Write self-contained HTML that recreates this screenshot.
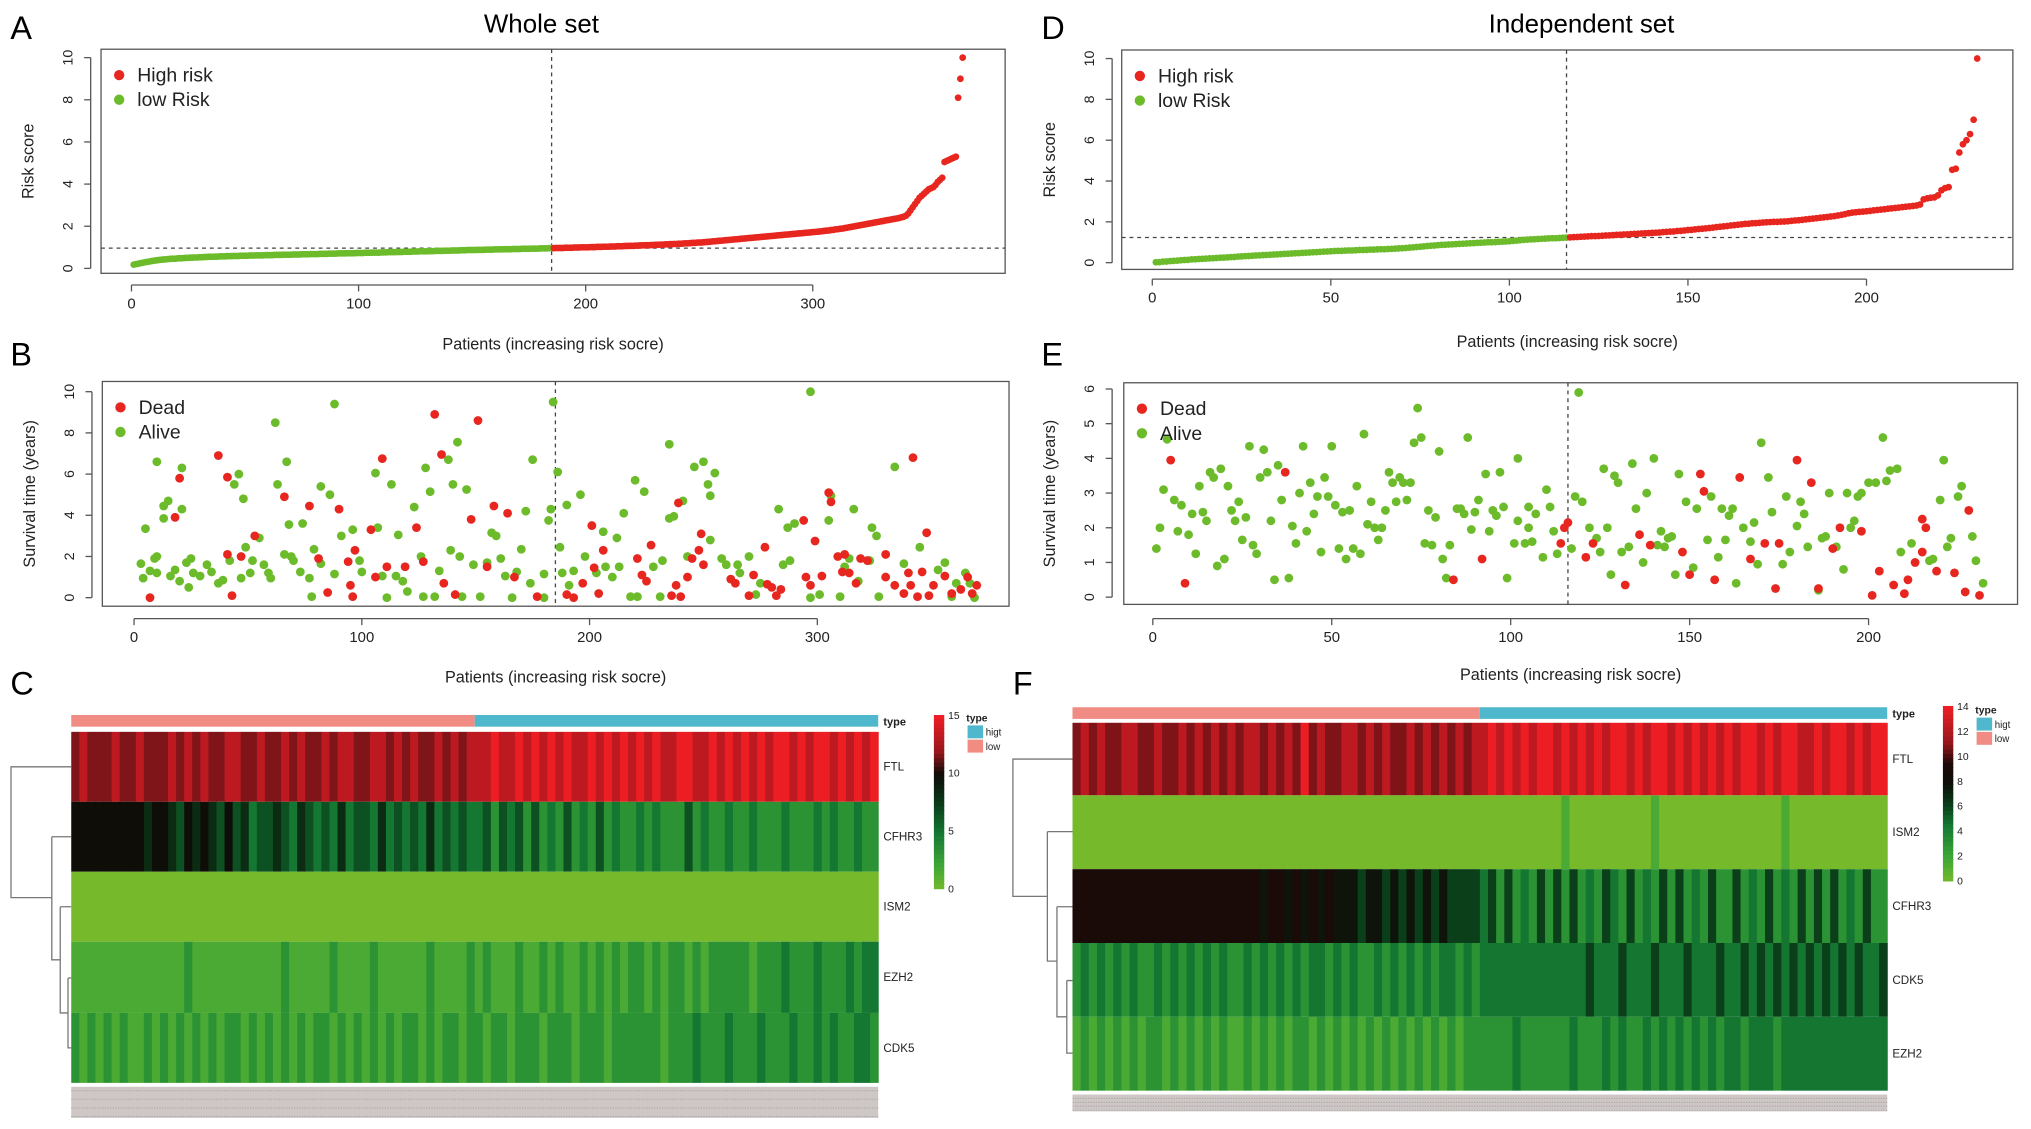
<!DOCTYPE html>
<html><head><meta charset="utf-8"><style>
html,body{margin:0;padding:0;background:#fff;}
svg{display:block;font-family:"Liberation Sans",Arial,sans-serif;}
</style></head><body>
<svg id="fig" width="2031" height="1129" viewBox="0 0 1568 871.6" preserveAspectRatio="none" xmlns="http://www.w3.org/2000/svg">
<rect x="0" y="0" width="1568" height="872" fill="#fff"/>
<text x="8" y="30" font-size="25">A</text>
<text x="8" y="282" font-size="25">B</text>
<text x="8" y="536" font-size="25">C</text>
<text x="804" y="30" font-size="25">D</text>
<text x="804" y="282" font-size="25">E</text>
<text x="782" y="536" font-size="25">F</text>
<text x="418" y="25" font-size="20" text-anchor="middle">Whole set</text>
<text x="1221" y="25" font-size="20" text-anchor="middle">Independent set</text>
</svg>
<script>
// ---------- DATA ----------
const riskWhole = [.18,.2,.22,.25,.27,.29,.31,.33,.35,.37,.38,.4,.41,.42,.43,.44,.45,.46,.46,.47,.48,.48,.49,.5,.5,.51,.51,.52,.52,.53,.53,.54,.54,.55,.55,.55,.56,.56,.57,.57,.57,.58,.58,.58,.59,.59,.59,.6,.6,.6,.6,.61,.61,.61,.62,.62,.62,.62,.63,.63,.63,.63,.64,.64,.64,.64,.65,.65,.65,.65,.66,.66,.66,.66,.67,.67,.67,.67,.68,.68,.68,.68,.69,.69,.69,.69,.7,.7,.7,.7,.71,.71,.71,.71,.72,.72,.72,.72,.73,.73,.73,.73,.74,.74,.74,.75,.75,.75,.75,.76,.76,.76,.77,.77,.77,.77,.78,.78,.78,.79,.79,.79,.79,.8,.8,.8,.81,.81,.81,.81,.82,.82,.82,.83,.83,.83,.83,.84,.84,.84,.85,.85,.85,.85,.86,.86,.86,.87,.87,.87,.87,.88,.88,.88,.88,.89,.89,.89,.89,.9,.9,.9,.9,.91,.91,.91,.91,.92,.92,.92,.92,.93,.93,.93,.93,.94,.94,.94,.94,.95,.95,.95,.95,.96,.96,
.96,.97,.97,.97,.97,.98,.98,.98,.98,.99,.99,.99,1,1,1,1,1.01,1.01,1.01,1.02,1.02,1.02,1.03,1.03,1.03,1.04,1.04,1.04,1.05,1.05,1.05,1.06,1.06,1.07,1.07,1.07,1.08,1.08,1.09,1.09,1.1,1.1,1.1,1.11,1.11,1.12,1.12,1.13,1.13,1.14,1.14,1.15,1.15,1.16,1.16,1.17,1.17,1.18,1.19,1.19,1.2,1.21,1.21,1.22,1.23,1.23,1.24,1.25,1.26,1.27,1.28,1.29,1.3,1.31,1.32,1.33,1.34,1.35,1.36,1.37,1.38,1.39,1.4,1.41,1.42,1.43,1.44,1.45,1.46,1.47,1.48,1.49,1.5,1.51,1.52,1.53,1.54,1.55,1.56,1.57,1.58,1.59,1.6,1.61,1.62,1.63,1.64,1.65,1.66,1.67,1.68,1.69,1.7,1.71,1.72,1.73,1.74,1.75,1.76,1.78,1.79,1.8,1.82,1.83,1.85,1.86,1.88,1.89,1.91,1.93,1.95,1.97,1.99,2.01,2.03,2.05,2.07,2.09,2.11,2.13,2.15,2.17,2.19,2.21,2.23,2.25,2.27,2.29,2.31,2.33,2.35,2.37,2.39,2.42,2.45,2.5,2.6,2.75,2.9,3.05,3.2,3.35,3.45,3.55,3.65,3.75,3.8,3.85,3.95,4.1,4.2,4.3,5.05,5.1,5.15,5.2,5.25,5.3,8.1,9.0,10.0];
const cutWhole = 185;
const riskIndep = [.02,.03,.05,.06,.08,.09,.1,.12,.13,.14,.16,.17,.18,.19,.2,.21,.22,.23,.24,.25,.26,.27,.28,.3,.31,.32,.33,.34,.35,.36,.37,.38,.39,.4,.41,.42,.43,.44,.45,.46,.47,.48,.49,.5,.51,.52,.53,.54,.55,.56,.57,.58,.58,.59,.6,.6,.61,.62,.62,.63,.64,.64,.65,.66,.66,.67,.68,.69,.7,.71,.72,.74,.75,.77,.78,.8,.82,.83,.84,.86,.87,.88,.89,.9,.91,.92,.93,.94,.95,.96,.97,.98,.99,1,1,1.01,1.02,1.03,1.04,1.05,1.07,1.08,1.1,1.12,1.13,1.14,1.15,1.16,1.17,1.18,1.19,1.2,1.2,1.21,1.22,1.23,
1.24,1.25,1.26,1.27,1.28,1.29,1.3,1.3,1.31,1.32,1.33,1.34,1.35,1.36,1.37,1.38,1.39,1.4,1.41,1.42,1.43,1.44,1.45,1.46,1.47,1.48,1.5,1.51,1.52,1.53,1.55,1.56,1.58,1.6,1.61,1.63,1.65,1.66,1.68,1.7,1.72,1.74,1.76,1.78,1.8,1.82,1.84,1.86,1.88,1.9,1.91,1.93,1.94,1.95,1.97,1.98,1.99,2,2,2.01,2.02,2.03,2.05,2.07,2.08,2.1,2.12,2.14,2.16,2.18,2.2,2.22,2.24,2.26,2.28,2.31,2.34,2.38,2.42,2.45,2.47,2.49,2.5,2.52,2.54,2.56,2.58,2.6,2.62,2.64,2.66,2.68,2.7,2.72,2.74,2.76,2.78,2.8,2.85,3.1,3.15,3.18,3.2,3.3,3.55,3.65,3.7,4.55,4.6,5.4,5.8,6.0,6.3,7.0,10];
const cutIndep = 116;

// survival B: [patient, years]
const deadWhole = [[7,0],[20,5.8],[18,3.9],[37,6.9],[41,2.1],[47,2.0],[41,5.85],[43,.1],[53,3],[66,4.9],[77,4.45],[81,1.9],[85,.25],[90,4.3],[94,1.75],[95,.6],[96,.05],[97,2.3],[104,3.3],[106,1],[109,6.75],[111,1.5],[119,1.5],[124,3.4],[127,1.75],[132,8.9],[135,6.95],[136,.7],[141,.15],[148,3.8],[151,8.6],[155,1.5],[158,4.45],[164,4.1],[167,1],[177,.05],[190,.15],[193,0],[197,.7],[201,3.5],[202,1.45],[204,.2],[206,2.3],[221,1.9],[223,1.1],[225,.8],[227,2.55],[236,.1],[238,.6],[240,.05],[239,4.6],[243,1],[245,1.9],[248,2.3],[249,3.1],[250,1.6],[262,.9],[264,.7],[270,.1],[272,1.1],[277,2.45],[278,.65],[280,.5],[282,.1],[284,.4],[294,3.75],[295,1],[297,.6],[299,2.75],[302,1.05],[305,5.1],[306,4.65],[309,2],[311,1.25],[312,2.1],[314,1.2],[317,.7],[319,1.9],[322,1.8],[330,2.1],[330,1],[334,.6],[338,.2],[340,1.2],[342,6.8],[341,.6],[344,.05],[346,1.25],[348,3.15],[351,.6],[349,.1],[356,1.05],[359,.2],[363,.4],[366,1],[368,.2],[370,.6]];
const aliveWhole = [[3,1.65],[4,.95],[5,3.35],[7,1.3],[9,1.9],[10,6.6],[10,2],[10,1.2],[13,4.45],[13,3.85],[15,4.7],[16,1.05],[18,1.35],[20,.8],[21,4.3],[21,6.3],[23,1.7],[24,.5],[25,1.9],[26,1.2],[29,1.05],[32,1.6],[34,1.25],[37,.7],[39,.85],[42,1.8],[44,5.5],[46,6],[47,.95],[48,4.8],[49,2.45],[51,1.2],[52,1.8],[55,2.9],[57,1.6],[59,1.2],[60,.95],[62,8.5],[63,5.5],[66,2.1],[67,6.6],[68,3.55],[69,2],[70,1.8],[73,1.25],[74,3.6],[77,.95],[78,.05],[79,2.35],[82,5.4],[82,1.65],[86,5],[88,9.4],[88,1.15],[91,3],[96,3.3],[99,1.8],[100,1.25],[106,6.05],[107,3.4],[109,1.05],[111,0],[113,5.5],[115,1.05],[116,3.05],[118,.8],[120,.3],[123,4.4],[126,2],[127,.05],[128,6.3],[130,5.15],[132,.05],[134,1.3],[138,6.7],[139,2.3],[140,5.5],[142,7.55],[143,2],[144,.05],[146,5.25],[149,1.6],[152,.05],[155,1.7],[157,3.15],[159,3],[161,1.9],[163,1.05],[166,0],[168,1.25],[170,2.35],[172,4.2],[174,.7],[175,6.7],[180,0],[180,1.15],[182,3.75],[183,4.3],[184,9.5],[186,6.1],[187,2.45],[188,1.2],[190,4.5],[191,.6],[193,1.3],[196,5],[198,2],[203,1.2],[206,3.2],[207,1.5],[210,1],[212,2.9],[213,1.5],[215,4.1],[218,.05],[220,5.7],[221,.05],[224,5.15],[228,1.5],[231,.05],[232,1.8],[235,3.85],[237,3.95],[235,7.45],[241,4.7],[243,2],[246,6.35],[250,6.6],[252,5.5],[253,4.95],[253,2.8],[255,6.05],[258,1.9],[260,1.6],[265,1.6],[266,1.2],[270,2],[273,.15],[275,.7],[283,4.3],[285,1.6],[287,3.4],[288,1.8],[290,3.6],[297,10],[297,0],[301,.15],[305,3.75],[306,4.95],[310,.05],[312,1.5],[314,1.9],[316,4.3],[318,.8],[323,1.8],[324,3.4],[326,3],[327,.05],[334,6.35],[338,1.65],[345,2.45],[353,1.35],[356,1.7],[359,.05],[361,.7],[365,1.2],[367,.7],[369,0]];

// survival E
const deadIndep = [[5,3.95],[9,.4],[37,3.6],[84,.5],[92,1.1],[114,1.55],[115,2],[116,2.15],[121,1.15],[123,1.55],[132,.35],[136,1.8],[139,1.5],[148,1.3],[150,.65],[153,3.55],[154,3.05],[157,.5],[164,3.45],[167,1.1],[171,1.55],[174,.25],[175,1.55],[180,3.95],[184,3.3],[186,.25],[190,1.4],[192,2],[198,1.9],[201,.05],[203,.75],[207,.35],[210,.1],[211,.5],[213,1],[215,1.3],[215,2.25],[216,2],[219,.75],[224,.7],[227,.15],[228,2.5],[231,.05]];
const aliveIndep = [[1,1.4],[2,2],[3,3.1],[4,4.55],[6,2.8],[7,1.9],[8,2.65],[10,1.8],[11,2.4],[12,1.25],[13,3.2],[14,2.45],[15,2.2],[16,3.6],[17,3.45],[18,.9],[19,3.7],[20,1.1],[21,3.2],[22,2.5],[23,2.2],[24,2.75],[25,1.65],[26,2.3],[27,4.35],[28,1.5],[29,1.25],[30,3.45],[31,4.25],[32,3.6],[33,2.2],[34,.5],[35,3.8],[36,2.8],[38,.55],[39,2.05],[40,1.55],[41,3],[42,4.35],[43,1.9],[44,3.3],[45,2.4],[46,2.9],[47,1.3],[48,3.45],[49,2.9],[50,4.35],[51,2.65],[52,1.4],[53,2.45],[54,1.1],[55,2.5],[56,1.4],[57,3.2],[58,1.25],[59,4.7],[60,2.1],[61,2.75],[62,2],[63,1.65],[64,2],[65,2.5],[66,3.6],[67,3.3],[68,2.75],[69,3.45],[70,3.3],[71,2.8],[72,3.3],[73,4.45],[74,5.45],[75,4.6],[76,1.55],[77,2.5],[78,1.5],[79,2.3],[80,4.2],[81,1.1],[82,.55],[83,1.5],[85,2.55],[86,2.55],[87,2.4],[88,4.6],[89,1.95],[90,2.45],[91,2.8],[93,3.55],[94,1.9],[95,2.5],[96,2.35],[97,3.6],[98,2.6],[99,.55],[101,1.55],[102,2.2],[102,4],[104,1.55],[105,2],[105,2.6],[106,1.6],[107,2.4],[109,1.15],[110,3.1],[111,2.6],[112,1.9],[113,1.25],[117,1.4],[118,2.9],[119,5.9],[120,2.75],[122,2],[124,1.7],[125,1.3],[126,3.7],[127,2],[128,.65],[129,3.5],[130,3.3],[131,1.3],[133,1.45],[134,3.85],[135,2.55],[137,1],[138,3],[140,4],[141,1.5],[142,1.9],[143,1.45],[144,1.7],[145,1.75],[146,.65],[147,3.55],[149,2.75],[151,.85],[152,2.55],[155,1.65],[156,2.9],[158,1.15],[159,2.55],[160,1.65],[161,2.35],[162,2.55],[163,.4],[165,2],[167,1.6],[168,2.15],[169,.95],[170,4.45],[172,3.45],[173,2.45],[176,.95],[177,2.9],[178,1.3],[180,2.05],[181,2.75],[182,2.4],[183,1.45],[186,.2],[187,1.7],[188,1.75],[189,3],[191,1.45],[193,.8],[194,3],[195,2],[196,2.2],[197,2.9],[198,3],[200,3.3],[202,3.3],[204,4.6],[205,3.35],[206,3.65],[208,3.7],[209,1.3],[212,1.55],[217,1.05],[218,1.1],[220,2.8],[221,3.95],[222,1.45],[223,1.7],[225,2.9],[226,3.2],[229,1.75],[230,1.05],[232,.4]];

// heatmap C (digit d -> d/9*15)
const genesC = ['FTL','CFHR3','ISM2','EZH2','CDK5'];
const heatC_FTL   = ['7877787787','7787878778','8778778787','7878877887','8787787878','8898898989','8988989898','9898899889','8989898998','9899898989'];
const heatC_CFHR3 = ['6666666665','6654656546','4534454354','3435344353','4343534343','3424342423','2423242322','3232224232','2322322232','2232322322'];
const heatC_ISM2  = ['0000000000','0000000000','0000000000','0000000000','0000000000','0000000000','0000000000','0000000000','0000000000','0000000000'];
const heatC_EZH2  = ['1111111111','1111211111','1111112111','1121111211','1111211112','1211121121','2112121212','2121221212','2222122232','2232223233'];
const heatC_CDK5  = ['2121212112','1212121212','2121212121','2212121212','1221212212','2122122212','2212221222','2221222322','2322232223','2232322332'];
// heatmap F (digit d -> d/9*14)
const genesF = ['FTL','ISM2','CFHR3','CDK5','EZH2'];
const heatF_FTL   = ['7878778877','8778787878','7887878797','8778878787','7878787878','8989898998','9898989989','8998989898','9899898998','8989989899'];
const heatF_ISM2  = ['0000000000','0000000000','0000000000','0000000000','0000000000','0000000000','1000000000','0100000000','0000000100','0000000000'];
const heatF_CFHR3 = ['6666666666','6666666666','6665665656','5655545545','4545454444','3424232424','2423243242','3242423242','2423242324','2424232422'];
const heatF_CDK5  = ['2323232322','3232323232','2323232323','3232322323','2323233232','3333333333','3334333433','3433343334','3343434343','4343434334'];
const heatF_EZH2  = ['1212121212','2121212121','1212121221','2121212121','2121212122','2222322222','2322232322','3232323232','3323332333','3333333333'];
const ticksA = [0,100,200,300], ticksAy=[0,2,4,6,8,10];
const ticksD = [0,50,100,150,200];
const ticksBy = [0,2,4,6,8,10], ticksEy=[0,1,2,3,4,5,6];
const cbTicksC = [0,5,10,15], cbTicksF=[0,2,4,6,8,10,12,14];

// ---------- DRAWING ----------
const NS='http://www.w3.org/2000/svg';
const svg=document.getElementById('fig');
function mk(tag,attrs,parent){const e=document.createElementNS(NS,tag);for(const k in attrs)e.setAttribute(k,attrs[k]);(parent||svg).appendChild(e);return e;}
const RED='#e7261f', GREEN='#6cbb2b';

function scale(d0,d1,r0,r1){return v=>r0+(v-d0)/(d1-d0)*(r1-r0);}

function axes(g,box,sx,sy,xt,yt,xAxisY,yAxisX,xlabY,ylab,name){
  const fr=mk('rect',{x:box.l,y:box.t,width:box.r-box.l,height:box.b-box.t,fill:'none',stroke:'#555','stroke-width':1},g);
  
  
  const xa=mk('g',{},g);
  
  
  mk('line',{x1:sx(xt[0]),x2:sx(xt[xt.length-1]),y1:xAxisY,y2:xAxisY,stroke:'#555'},xa);
  xt.forEach(t=>{mk('line',{x1:sx(t),x2:sx(t),y1:xAxisY,y2:xAxisY+5,stroke:'#555'},xa);
    const tx=mk('text',{x:sx(t),y:xAxisY+18,'font-size':11.5,'text-anchor':'middle',fill:'#222'},xa);tx.textContent=t;
    
    });
  const ya=mk('g',{},g);
  
  
  mk('line',{x1:yAxisX,x2:yAxisX,y1:sy(yt[0]),y2:sy(yt[yt.length-1]),stroke:'#555'},ya);
  yt.forEach(t=>{mk('line',{x1:yAxisX-5,x2:yAxisX,y1:sy(t),y2:sy(t),stroke:'#555'},ya);
    const tx=mk('text',{x:0,y:0,'font-size':11,'text-anchor':'middle',fill:'#222',transform:`translate(${yAxisX-14},${sy(t)}) rotate(-90)`},ya);tx.textContent=t;
    
    });
  const xl=mk('text',{x:(box.l+box.r)/2,y:xlabY,'font-size':12.5,'text-anchor':'middle',fill:'#222'},g);
  xl.textContent='Patients (increasing risk socre)';
  
  
  const yl=mk('text',{x:0,y:0,'font-size':12.5,'text-anchor':'middle',fill:'#222',transform:`translate(${yAxisX-44},${(box.t+box.b)/2}) rotate(-90)`},g);
  yl.textContent=ylab;
  
  
}
function legend(g,x,y,items,name){
  const lg=mk('g',{},g);
  
  
  items.forEach((it,i)=>{
    const c=mk('circle',{cx:x,cy:y+i*19,r:4,fill:it[1]},lg);
    
    
    const t=mk('text',{x:x+14,y:y+i*19+5,'font-size':15,fill:'#222'},lg);t.textContent=it[0];
    
    
  });
}
function riskPanel(name,box,xr,x0px,x1px,yz,yt10,risk,cut,xt,xAxisY,yAxisX,xlabY){
  const g=mk('g',{});
  
  
  const sx=scale(xr[0],xr[1],x0px,x1px), sy=scale(0,10,yz,yt10);
  axes(g,box,sx,sy,xt,ticksAy,xAxisY,yAxisX,xlabY,'Risk score',name);
  const thr=(risk[cut-1]+risk[cut])/2;
  mk('line',{x1:sx(cut),x2:sx(cut),y1:box.t,y2:box.b,stroke:'#444','stroke-dasharray':'3,3'},g);
  mk('line',{x1:box.l,x2:box.r,y1:sy(thr),y2:sy(thr),stroke:'#444','stroke-dasharray':'3,3'},g);
  risk.forEach((v,i)=>{const c=mk('circle',{cx:sx(i+1),cy:sy(v),r:2.6,fill:i<cut?GREEN:RED},g);
    
    });
  legend(g,box.l+14,box.t+20,[['High risk',RED],['low Risk',GREEN]],name);
}
function survPanel(name,box,xr,x0px,x1px,ymax,yz,ytop,dead,alive,cut,xt,yt,xAxisY,yAxisX,xlabY){
  const g=mk('g',{});
  
  
  const sx=scale(xr[0],xr[1],x0px,x1px), sy=scale(0,ymax,yz,ytop);
  axes(g,box,sx,sy,xt,yt,xAxisY,yAxisX,xlabY,'Survival time (years)',name);
  mk('line',{x1:sx(cut),x2:sx(cut),y1:box.t,y2:box.b,stroke:'#444','stroke-dasharray':'3,3'},g);
  alive.forEach(p=>{const c=mk('circle',{cx:sx(p[0]),cy:sy(p[1]),r:3.4,fill:GREEN},g);
    
    });
  dead.forEach(p=>{const c=mk('circle',{cx:sx(p[0]),cy:sy(p[1]),r:3.4,fill:RED},g);
    
    });
  legend(g,box.l+14,box.t+20,[['Dead',RED],['Alive',GREEN]],name);
}
riskPanel('panel-a-risk-score',{l:78,r:776,t:38,b:211},[0,300],101.5,627.5,207.2,44.5,riskWhole,cutWhole,ticksA,220,70,270);
riskPanel('panel-d-risk-score',{l:866,r:1554,t:38.6,b:208},[0,200],889.6,1441,202.8,45.2,riskIndep,cutIndep,ticksD,215.5,858.6,268);
survPanel('panel-b-survival',{l:79,r:779,t:294.5,b:468},[0,300],103.5,631,10,461.4,302.4,deadWhole,aliveWhole,cutWhole,ticksA,ticksBy,477.6,71,527);
survPanel('panel-e-survival',{l:867.6,r:1557.6,t:295.5,b:466.6},[0,200],890,1442.6,6,461,300.3,deadIndep,aliveIndep,cutIndep,ticksD,ticksEy,477.6,858.6,525);

// heatmap colour ramp
function ramp(t,stops){t=Math.max(0,Math.min(1,t));for(let i=1;i<stops.length;i++){if(t<=stops[i][0]){const a=stops[i-1],b=stops[i],f=(t-a[0])/(b[0]-a[0]);return `rgb(${[1,2,3].map(k=>Math.round(a[k]+(b[k]-a[k])*f)).join(',')})`;}}const s=stops[stops.length-1];return `rgb(${s[1]},${s[2]},${s[3]})`;}
const stopsC=[[0,118,186,44],[0.15,60,165,55],[0.33,20,120,50],[0.5,10,60,25],[0.67,14,12,8],[0.8,150,22,28],[1,236,30,36]];
const stopsF=[[0,118,186,44],[0.15,60,165,55],[0.33,20,120,50],[0.45,10,60,25],[0.57,14,14,8],[0.68,28,10,8],[0.8,150,22,28],[1,236,30,36]];

function heatmap(name,x0,x1,typeY,rowsY,rowArrs,genes,vmax,stops,labX,cb,cbTicks,leg,dend){
  const g=mk('g',{});
  
  
  const ncol=rowArrs[0].join('').length, cw=(x1-x0)/ncol;
  const tb1=mk('rect',{x:x0,y:typeY[0],width:(x1-x0)/2,height:typeY[1]-typeY[0],fill:'#f08c84'},g);
  
  
  const tb2=mk('rect',{x:(x0+x1)/2,y:typeY[0],width:(x1-x0)/2,height:typeY[1]-typeY[0],fill:'#4fb8cc'},g);
  
  
  const tl=mk('text',{x:labX,y:typeY[1]-1,'font-size':8.5,'font-weight':'bold',fill:'#222'},g);tl.textContent='type';
  
  
  rowArrs.forEach((arr,r)=>{
    const s=arr.join(''), y0=rowsY[r], y1=rowsY[r+1];
    for(let c=0;c<ncol;c++){
      const v=(+s[c])/9*vmax;
      const cell=mk('rect',{x:x0+c*cw,y:y0,width:cw+0.4,height:y1-y0,fill:ramp(v/vmax,stops)},g);
      
      
    }
    const gl=mk('text',{x:labX,y:(y0+y1)/2+3,'font-size':9,fill:'#222'},g);gl.textContent=genes[r];
    
    
  });
  const yl=rowsY[rowsY.length-1]+3;
  const sl=mk('rect',{x:x0,y:yl,width:x1-x0,height:cb.sh,fill:'#cfc6c6'},g);
  
  
  for(let k=0;k<4;k++)mk('line',{x1:x0,x2:x1,y1:yl+3+k*(cb.sh-4)/3,y2:yl+3+k*(cb.sh-4)/3,stroke:'#aaa','stroke-width':0.8,'stroke-dasharray':'1,1'},g);
  const cbg=mk('g',{},g);
  
  
  const n=40;for(let i=0;i<n;i++){mk('rect',{x:cb.x,y:cb.y0+(cb.y1-cb.y0)*i/n,width:8,height:(cb.y1-cb.y0)/n+0.5,fill:ramp(1-i/n,stops)},cbg);}
  cbTicks.forEach(t=>{const ty=cb.y1-(t/cb.max)*(cb.y1-cb.y0);
    const tx=mk('text',{x:cb.x+11,y:ty+3,'font-size':8,fill:'#222'},cbg);tx.textContent=t;
    
    });
  const lgg=mk('g',{},g);
  
  
  const lt=mk('text',{x:leg.x,y:leg.y,'font-size':8,'font-weight':'bold',fill:'#222'},lgg);lt.textContent='type';
  mk('rect',{x:leg.x+1,y:leg.y+3,width:12,height:10,fill:'#4fb8cc'},lgg);
  mk('rect',{x:leg.x+1,y:leg.y+14,width:12,height:10,fill:'#f08c84'},lgg);
  const h=mk('text',{x:leg.x+15,y:leg.y+11,'font-size':7.5,fill:'#222'},lgg);h.textContent='higt';
  const l=mk('text',{x:leg.x+15,y:leg.y+22,'font-size':7.5,fill:'#222'},lgg);l.textContent='low';
  const dg=mk('path',{d:dend,fill:'none',stroke:'#777','stroke-width':1},g);
  
  
}
heatmap('panel-c-heatmap',55,678,[552,561],[565,619,673,727,782,836],[heatC_FTL,heatC_CFHR3,heatC_ISM2,heatC_EZH2,heatC_CDK5],genesC,15,stopsC,682,{x:721,y0:552,y1:686,max:15,sh:24},cbTicksC,{x:746,y:557},
 'M55,592 H8.5 V693 H40 M40,646 H55 M40,646 V741 H46.5 M46.5,700 H55 M46.5,700 V782 H52.5 M52.5,755 H55 M52.5,755 V809 H55');
heatmap('panel-f-heatmap',828,1457,[546,555],[558,614,671,728,785,842],[heatF_FTL,heatF_ISM2,heatF_CFHR3,heatF_CDK5,heatF_EZH2],genesF,14,stopsF,1461,{x:1500,y0:545,y1:680,max:14,sh:13},cbTicksF,{x:1525,y:551},
 'M828,586 H782 V692 H808.6 M808.6,642 H828 M808.6,642 V742 H816 M816,700 H828 M816,700 V785 H823.6 M823.6,757 H828 M823.6,757 V813 H828');
</script>
</body></html>
